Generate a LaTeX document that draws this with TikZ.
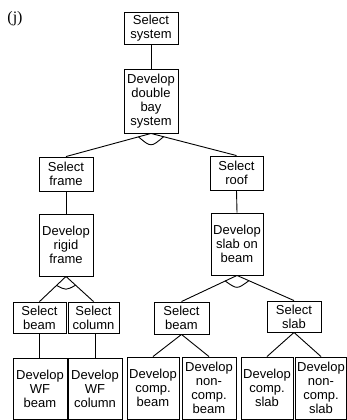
\documentclass[tikz,border=0pt]{standalone}
\usepackage{fontspec}
\setmainfont{Liberation Sans}
\newfontfamily\labelfont{Liberation Serif}
\usetikzlibrary{calc}

\tikzset{
  task/.style={draw, line width=0.9pt, inner sep=0pt, align=center,
    font=\fontsize{13}{14}\selectfont},
  link/.style={line width=0.9pt},
}
% arc joining the two branches of an AND node
\newcommand\andarc[3]{%
  \draw[link] ($(#1)!13pt!(#2)$) .. controls ($(#1)+(0,14)$) .. ($(#1)!13pt!(#3)$);}

\begin{document}
\begin{tikzpicture}[x=1pt, y=-1pt]
  \useasboundingbox (0,0) rectangle (347,420);

  \node[font=\labelfont\fontsize{16}{18}\selectfont] (tag) at (15,19) {(j)};

  % top levels
  \node[task, minimum width=54pt, minimum height=32pt] (sys) at (151,28) {Select\\system};
  \node[task, minimum width=54pt, minimum height=64pt] (dbl) at (151,101) {Develop\\double\\bay\\system};

  \node[task, minimum width=54pt, minimum height=34pt] (sframe) at (66,174) {Select\\frame};
  \node[task, minimum width=53pt, minimum height=34pt] (sroof) at (236.5,173) {Select\\roof};

  \node[task, minimum width=54pt, minimum height=62pt] (rigid) at (66,245) {Develop\\rigid\\frame};
  \node[task, minimum width=52pt, minimum height=62pt] (slab) at (237,244) {Develop\\slab on\\beam};

  % selection level
  \node[task, minimum width=53pt, minimum height=31pt] (sbeamL) at (39.5,317.5) {Select\\beam};
  \node[task, minimum width=51pt, minimum height=31pt] (scol) at (93.5,317.5) {Select\\column};
  \node[task, minimum width=55pt, minimum height=32pt] (sbeamR) at (181.5,318) {Select\\beam};
  \node[task, minimum width=54pt, minimum height=31pt] (sslab) at (294,316.5) {Select\\slab};

  % development level
  \node[task, minimum width=54pt, minimum height=61pt] (wfb) at (40,388.5) {Develop\\WF\\beam};
  \node[task, minimum width=54pt, minimum height=61pt] (wfc) at (95,388.5) {Develop\\WF\\column};
  \node[task, minimum width=52pt, minimum height=62pt] (cb) at (153,388) {Develop\\comp.\\beam};
  \node[task, minimum width=54pt, minimum height=62pt] (ncb) at (209,388) {Develop\\non-\\comp.\\beam};
  \node[task, minimum width=52pt, minimum height=62pt] (cs) at (267,388) {Develop\\comp.\\slab};
  \node[task, minimum width=51pt, minimum height=62pt] (ncs) at (321,388) {Develop\\non-\\comp.\\slab};

  % connectors
  \draw[link] (sys.south) -- (dbl.north);
  \draw[link] (dbl.south) -- (sframe.north);
  \draw[link] (dbl.south) -- (sroof.north);
  \andarc{dbl.south}{sframe.north}{sroof.north}

  \draw[link] (sframe.south) -- (rigid.north);
  \draw[link] (sroof.south) -- (slab.north);

  \draw[link] (rigid.south) -- (sbeamL.north);
  \draw[link] (rigid.south) -- (scol.north);
  \andarc{rigid.south}{sbeamL.north}{scol.north}

  \draw[link] (slab.south) -- (sbeamR.north);
  \draw[link] (slab.south) -- (sslab.north);
  \andarc{slab.south}{sbeamR.north}{sslab.north}

  \draw[link] (sbeamL.south) -- (sbeamL.south |- wfb.north);
  \draw[link] (wfc.north |- scol.south) -- (wfc.north);

  \draw[link] (sbeamR.south) -- (cb.north);
  \draw[link] (sbeamR.south) -- (ncb.north);
  \draw[link] (sslab.south) -- (cs.north);
  \draw[link] (sslab.south) -- (ncs.north);
\end{tikzpicture}
\end{document}
